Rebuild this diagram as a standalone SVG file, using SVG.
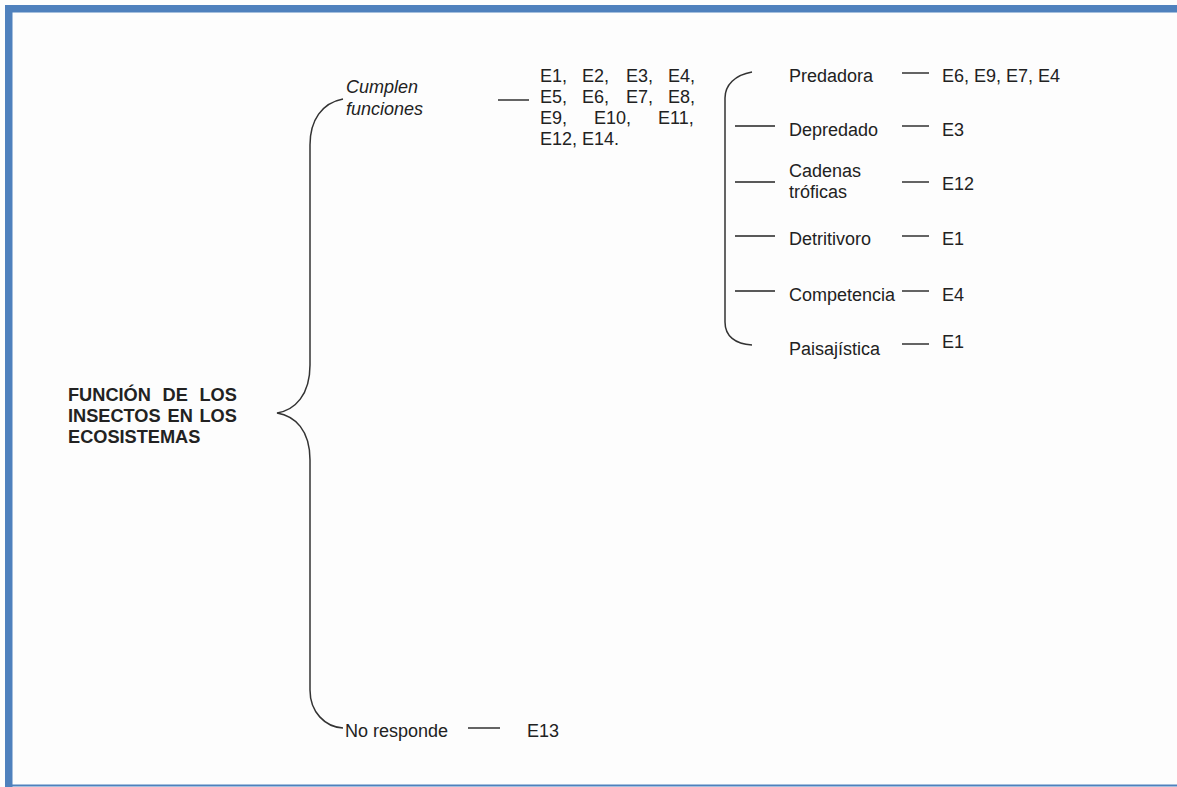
<svg xmlns="http://www.w3.org/2000/svg" width="1177" height="787" viewBox="0 0 1177 787">
  <style>
    .t { font-family: "Liberation Sans", Arial, sans-serif; font-size: 18px; fill: #222; }
    .it { font-style: italic; }
    .b { font-weight: bold; font-size: 18.2px; }
    .ln { stroke: #222; stroke-width: 1.4; fill: none; }
    .br { stroke: #333; stroke-width: 1.5; fill: none; }
  </style>

  <!-- page and frame -->
  <rect x="0" y="0" width="1177" height="787" fill="#fdfdfd"/>
  <rect x="5" y="5" width="1172" height="7.5" fill="#4f81bd"/>
  <rect x="5" y="5" width="7.5" height="782" fill="#4f81bd"/>
  <rect x="5" y="784.5" width="1172" height="2" fill="#4f81bd"/>

  <!-- root: justified title, words placed one by one -->
  <g id="root">
    <text class="t b" y="401"><tspan x="68">FUNCIÓN</tspan><tspan x="162.5">DE</tspan><tspan x="199.5">LOS</tspan></text>
    <text class="t b" y="422"><tspan x="68">INSECTOS</tspan><tspan x="167.5">EN</tspan><tspan x="199.5">LOS</tspan></text>
    <text class="t b" x="68" y="443">ECOSISTEMAS</text>
  </g>

  <g id="cumplen">
    <text class="t it" x="346" y="93">Cumplen</text>
    <text class="t it" x="346" y="115">funciones</text>
  </g>

  <g id="lista">
    <text class="t" y="82"><tspan x="540">E1,</tspan><tspan x="582">E2,</tspan><tspan x="626">E3,</tspan><tspan x="668">E4,</tspan></text>
    <text class="t" y="103"><tspan x="540">E5,</tspan><tspan x="582">E6,</tspan><tspan x="626">E7,</tspan><tspan x="668">E8,</tspan></text>
    <text class="t" y="124"><tspan x="540">E9,</tspan><tspan x="594">E10,</tspan><tspan x="658">E11,</tspan></text>
    <text class="t" x="540" y="145">E12, E14.</text>
  </g>

  <g id="predadora">
    <text class="t" x="789" y="82">Predadora</text>
    <text class="t" x="942" y="82">E6, E9, E7, E4</text>
  </g>
  <g id="depredado">
    <text class="t" x="789" y="136">Depredado</text>
    <text class="t" x="942" y="136">E3</text>
  </g>
  <g id="cadenas">
    <text class="t" x="789" y="177">Cadenas</text>
    <text class="t" x="789" y="198">tróficas</text>
    <text class="t" x="942" y="190">E12</text>
  </g>
  <g id="detritivoro">
    <text class="t" x="789" y="245">Detritivoro</text>
    <text class="t" x="942" y="245">E1</text>
  </g>
  <g id="competencia">
    <text class="t" x="789" y="301">Competencia</text>
    <text class="t" x="942" y="301">E4</text>
  </g>
  <g id="paisajistica">
    <text class="t" x="789" y="355">Paisajística</text>
    <text class="t" x="942" y="348">E1</text>
  </g>

  <g id="no-responde">
    <text class="t" x="345" y="737">No responde</text>
    <text class="t" x="527" y="737">E13</text>
  </g>

  <!-- braces and dashes -->
  <g id="connectors">
    <path class="br" d="M343,99 C322,103 310,120 310,145 L310,365 C310,395 295,410 277,413 C295,416 310,430 310,460 L310,690 C310,712 325,727 343,728"/>
    <path class="br" d="M752,72 C735,75 725,85 725,98 L725,322 C725,336 735,344 752,345"/>

    <line class="ln" x1="498" y1="100" x2="529" y2="100"/>

    <line class="ln" x1="902" y1="73" x2="929" y2="73"/>
    <line class="ln" x1="735" y1="126" x2="775" y2="126"/>
    <line class="ln" x1="902" y1="126" x2="929" y2="126"/>
    <line class="ln" x1="735" y1="182" x2="775" y2="182"/>
    <line class="ln" x1="902" y1="182" x2="929" y2="182"/>
    <line class="ln" x1="735" y1="236" x2="775" y2="236"/>
    <line class="ln" x1="902" y1="236" x2="929" y2="236"/>
    <line class="ln" x1="735" y1="291" x2="775" y2="291"/>
    <line class="ln" x1="902" y1="291" x2="929" y2="291"/>
    <line class="ln" x1="902" y1="344" x2="929" y2="344"/>

    <line class="ln" x1="468" y1="728" x2="500" y2="728"/>
  </g>
</svg>
